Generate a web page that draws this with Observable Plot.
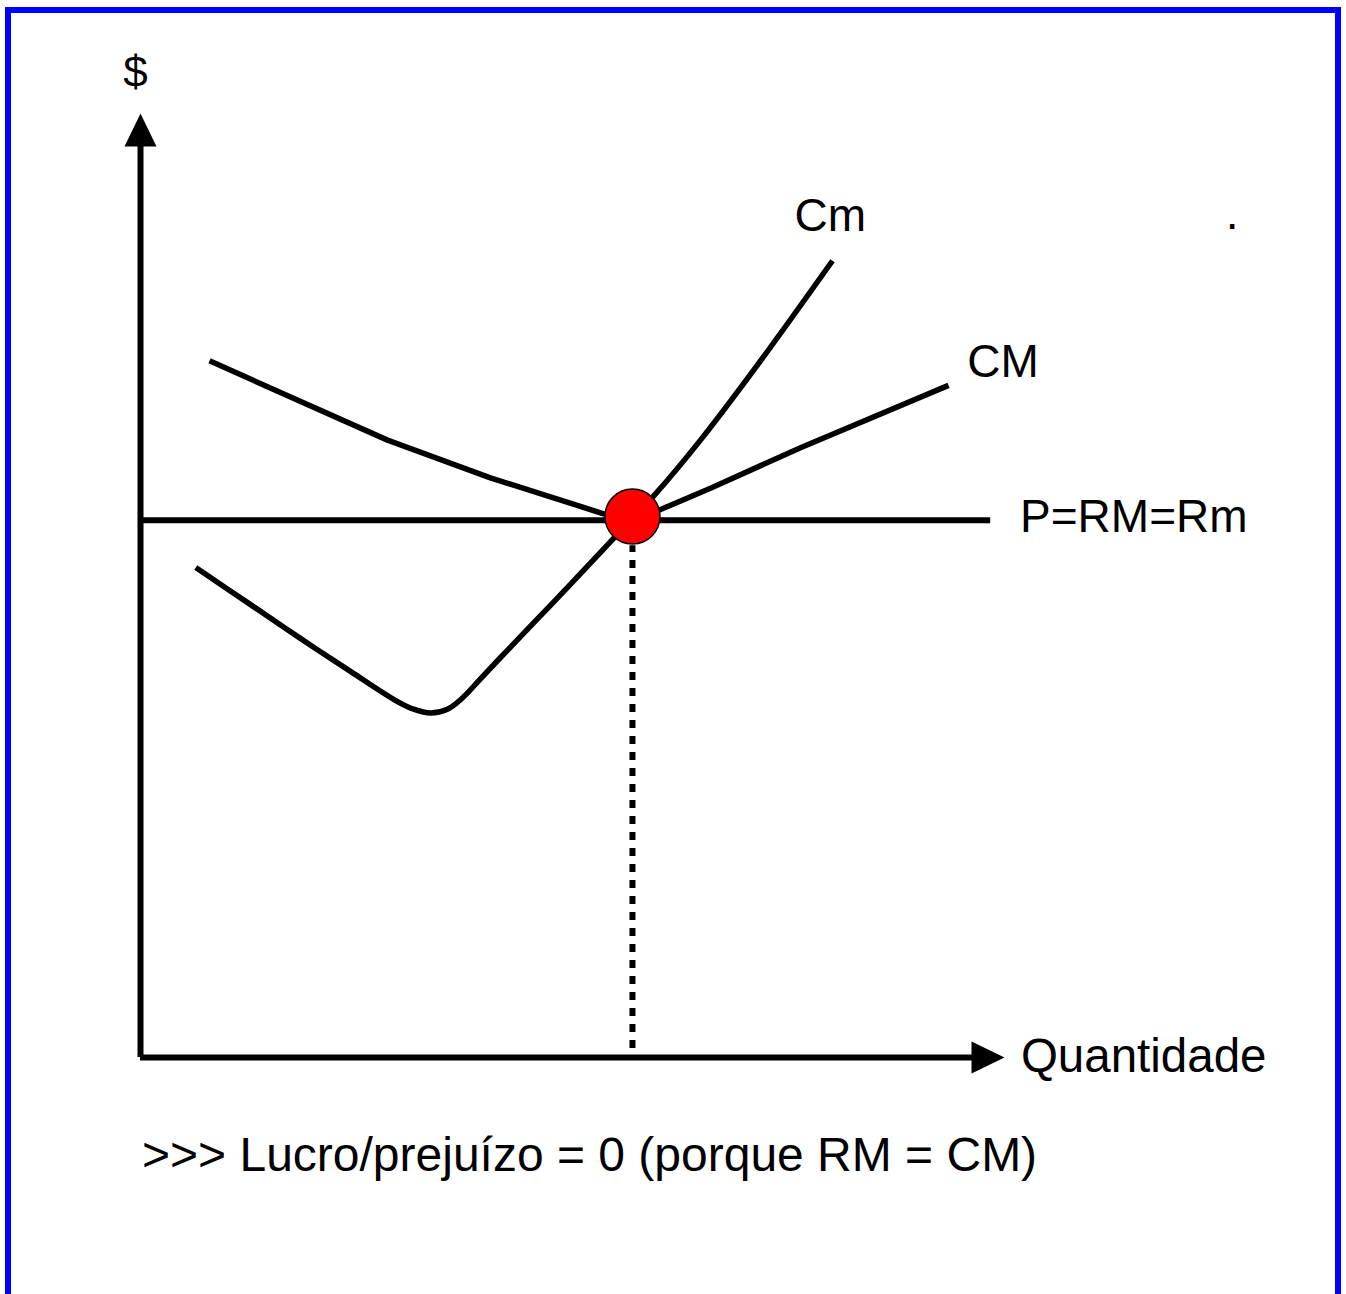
<!DOCTYPE html>
<html>
<head>
<meta charset="utf-8">
<script src="https://cdn.jsdelivr.net/npm/d3@7"></script>
<script src="https://cdn.jsdelivr.net/npm/@observablehq/plot@0.6"></script>
<style>
  html, body { margin: 0; padding: 0; background: #fff; overflow: hidden; width: 1346px; height: 1294px; }
  #frame { position: absolute; left: 5px; top: 7px; width: 1324px; height: 1320px; border: 6px solid #0000ff; box-sizing: content-box; }
  #chart { position: absolute; left: 0; top: 0; }
  #caption { position: absolute; left: 142px; top: 1131px; font-family: "Liberation Sans", Arial, sans-serif; font-size: 48px; line-height: 48px; color: #000; white-space: nowrap; }
</style>
</head>
<body>
<div id="frame"></div>
<div id="chart"></div>
<div id="caption"></div>
<script>
// Marginal cost (Cm)
const cmQ = [6.4, 12.7, 18.5, 24.3, 29.75, 31.6, 33.56, 35.53, 37.04, 39.35, 41.7, 47.45, 53.24, 56.94, 59.61, 64.81, 71.76, 80.09];
const cmV = [51.9, 48.0, 44.4, 40.9, 37.7, 36.9, 36.5, 36.9, 37.9, 40.1, 42.4, 47.9, 53.5, 57.1, 59.7, 65.4, 73.8, 84.4];
// Average cost (CM)
const cmeQ = [7.99, 28.59, 40.5, 53.6, 56.94, 60.19, 65.97, 76.39, 93.52];
const cmeV = [73.8, 65.4, 61.4, 57.6, 57.1, 58.05, 60.3, 64.6, 71.2];
// Price line P = RM = Rm
const priceLevel = 56.9;
const priceQ = [0, 98.4];
// Equilibrium point
const eqQ = 56.94;
const eqV = 57.3;
const dropTop = 54.2;
const dropBottom = 0.95;
// Axes
const axisEnd = 100;
const axisLineEnd = [96.3, 96.5];
// Labels
const labelText = ["Cm", "CM", "P=RM=Rm", "Quantidade", "."];
const labelQ = [75.7, 95.7, 101.8, 101.9, 125.6];
const labelV = [89.1, 73.6, 57.2, 0.05, 89.3];
const labelSize = [46, 46, 46, 47.5, 46];
const yAxisLabel = "$";
const yAxisLabelPos = [-0.58, 104.3];
const captionText = ">>> Lucro/prejuízo = 0 (porque RM = CM)";

const cmData = cmQ.map((q, i) => ({q, v: cmV[i]}));
const cmeData = cmeQ.map((q, i) => ({q, v: cmeV[i]}));
const labels = labelText.map((t, i) => ({t, q: labelQ[i], v: labelV[i], s: labelSize[i]}));

const arrowHead = {
  draw(ctx) {
    ctx.moveTo(0, 0);
    ctx.lineTo(16, 33);
    ctx.lineTo(-16, 33);
    ctx.closePath();
  }
};

const font = '"Liberation Sans", Arial, sans-serif';

const chart = Plot.plot({
  width: 1346,
  height: 1294,
  marginLeft: 140,
  marginRight: 342,
  marginTop: 113,
  marginBottom: 237,
  x: {domain: [0, 100], axis: null},
  y: {domain: [0, 100], axis: null},
  style: {fontFamily: font, background: "transparent", overflow: "visible"},
  marks: [
    // axes
    Plot.ruleX([0], {y1: 0, y2: axisLineEnd[1], stroke: "black", strokeWidth: 6}),
    Plot.ruleY([0], {x1: 0, x2: axisLineEnd[0], stroke: "black", strokeWidth: 6}),
    Plot.dot([{q: 0, v: axisEnd}], {x: "q", y: "v", symbol: arrowHead, fill: "black", stroke: "none", r: 10}),
    Plot.dot([{q: axisEnd, v: 0}], {x: "q", y: "v", symbol: arrowHead, fill: "black", stroke: "none", r: 10, rotate: 90}),
    // price line
    Plot.ruleY([priceLevel], {x1: priceQ[0], x2: priceQ[1], stroke: "black", strokeWidth: 6}),
    // dotted drop line
    Plot.ruleX([eqQ], {y1: dropBottom, y2: dropTop, stroke: "black", strokeWidth: 6, strokeDasharray: "8,8", strokeLinecap: "butt"}),
    // CM
    Plot.line(cmeData, {x: "q", y: "v", stroke: "black", strokeWidth: 5.5, strokeLinejoin: "round", strokeLinecap: "butt"}),
    // Cm
    Plot.line(cmData, {x: "q", y: "v", stroke: "black", strokeWidth: 5.5, curve: "catmull-rom", strokeLinejoin: "round", strokeLinecap: "butt"}),
    // equilibrium point
    Plot.dot([{q: eqQ, v: eqV}], {x: "q", y: "v", r: 27.5, fill: "#ff0000", stroke: "black", strokeWidth: 1.5}),
    // labels
    Plot.text(labels, {x: "q", y: "v", text: "t", fontSize: "s", textAnchor: "start", lineAnchor: "middle", fill: "black"}),
    Plot.text([{t: yAxisLabel}], {x: () => yAxisLabelPos[0], y: () => yAxisLabelPos[1], text: "t", textAnchor: "middle", lineAnchor: "middle", fontSize: 44, fill: "black"})
  ]
});
document.getElementById("chart").appendChild(chart);
document.getElementById("caption").textContent = captionText;
</script>
</body>
</html>
